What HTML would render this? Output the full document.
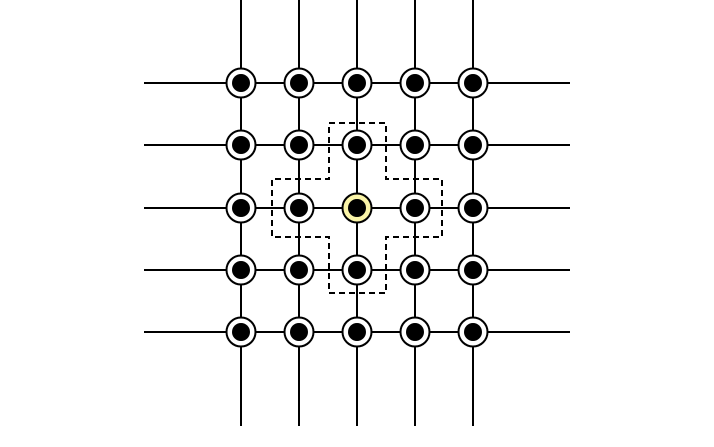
<!DOCTYPE html>
<html><head><meta charset="utf-8"><style>html,body{margin:0;padding:0;background:#fff;}svg{display:block;}</style></head>
<body>
<svg width="714" height="447" viewBox="0 0 714 447" id="s">
</svg>
<script>
const cols = [241, 299, 357, 415, 473];
const rows = [83, 145, 208, 270, 332];
const highlight = [2, 2];
const NS = 'http://www.w3.org/2000/svg';
const s = document.getElementById('s');
function mk(tag, attrs){ const e=document.createElementNS(NS,tag); for(const k in attrs) e.setAttribute(k,attrs[k]); s.appendChild(e); return e; }
cols.forEach((x,i)=>{
  const l = mk('line',{x1:x,y1:0,x2:x,y2:426,stroke:'#000','stroke-width':2});
  
  
});
rows.forEach((y,i)=>{
  const l = mk('line',{x1:144,y1:y,x2:570,y2:y,stroke:'#000','stroke-width':2});
  
  
});
const p = mk('path',{d:'M329 123 H386 V179 H442 V237 H386 V293 H329 V237 H272 V179 H329 Z',fill:'none',stroke:'#000','stroke-width':2,'stroke-dasharray':'6 4'});


rows.forEach((y,r)=>cols.forEach((x,c)=>{
  const hl = r===highlight[0] && c===highlight[1];
  const o = mk('circle',{cx:x,cy:y,r:14.5,fill:hl?'#fbf5a8':'#fff',stroke:'#000','stroke-width':2});
  
  
  const i = mk('circle',{cx:x,cy:y,r:9,fill:'#000'});
  
  
}));
</script>
</body></html>
